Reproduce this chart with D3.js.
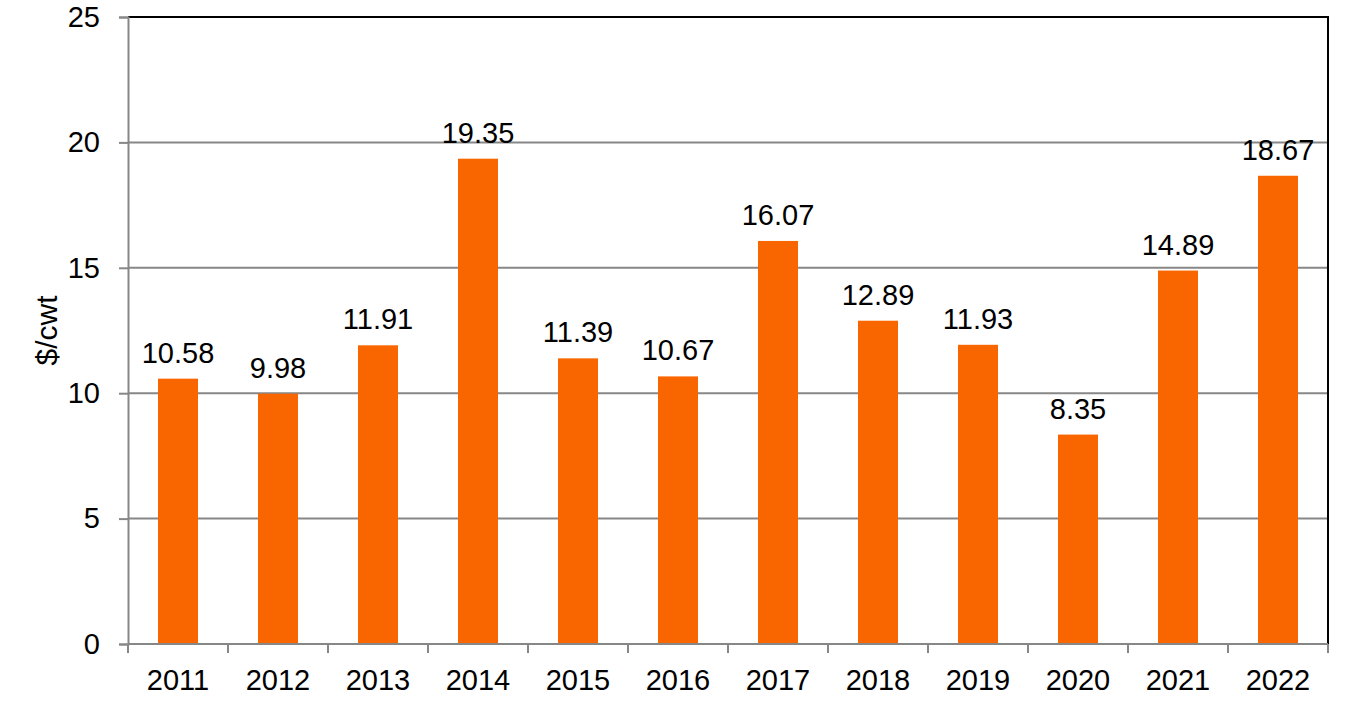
<!DOCTYPE html>
<html>
<head>
<meta charset="utf-8">
<script src="https://cdn.jsdelivr.net/npm/d3@7"></script>
<style>
  body { margin: 0; background: #fff; }
  text { font-family: "Liberation Sans", Arial, sans-serif; fill: #000; }
</style>
</head>
<body>
<div id="chart"></div>
<script>
// Years and prices ($/cwt)
var years = ["2011", "2012", "2013", "2014", "2015", "2016", "2017", "2018", "2019", "2020", "2021", "2022"];
var prices = [10.58, 9.98, 11.91, 19.35, 11.39, 10.67, 16.07, 12.89, 11.93, 8.35, 14.89, 18.67];
var yTicks = [0, 5, 10, 15, 20, 25];

var width = 1349;
var height = 711;
var margin = { top: 17, right: 21, bottom: 67, left: 128 };
var plotW = width - margin.left - margin.right;
var plotH = height - margin.top - margin.bottom;
var fontSize = "29px";

var svg = d3.select("#chart")
  .append("svg")
    .attr("width", width)
    .attr("height", height);

var g = svg.append("g")
  .attr("transform", "translate(" + margin.left + "," + margin.top + ")");

var x = d3.scaleBand()
  .domain(years)
  .range([0, plotW])
  .paddingInner(0.6)
  .paddingOuter(0.3);

var y = d3.scaleLinear()
  .domain([0, 25])
  .range([plotH, 0]);

// gridlines
g.selectAll("line.grid")
  .data(yTicks.slice(1, -1))
  .enter()
  .append("line")
    .attr("class", "grid")
    .attr("x1", 0)
    .attr("x2", plotW)
    .attr("y1", function (d) { return y(d); })
    .attr("y2", function (d) { return y(d); })
    .attr("stroke", "#878787")
    .attr("stroke-width", 2);

// top and right border
g.append("path")
  .attr("d", "M0," + y(25) + "H" + plotW + "V" + plotH)
  .attr("fill", "none")
  .attr("stroke", "#000")
  .attr("stroke-width", 2);

// bars
g.selectAll("rect.bar")
  .data(prices)
  .enter()
  .append("rect")
    .attr("class", "bar")
    .attr("x", function (d, i) { return x(years[i]); })
    .attr("y", function (d) { return y(d); })
    .attr("width", x.bandwidth())
    .attr("height", function (d) { return plotH - y(d); })
    .attr("fill", "#F96600");

// value labels
g.selectAll("text.val")
  .data(prices)
  .enter()
  .append("text")
    .attr("class", "val")
    .attr("x", function (d, i) { return x(years[i]) + x.bandwidth() / 2; })
    .attr("y", function (d) { return y(d) - 16; })
    .attr("text-anchor", "middle")
    .style("font-size", fontSize)
    .text(function (d) { return d.toFixed(2); });

// y axis
var yAxis = d3.axisLeft(y)
  .tickValues(yTicks)
  .tickSize(9)
  .tickPadding(19);

var ya = g.append("g").call(yAxis);
ya.select(".domain").attr("stroke", "#878787").attr("stroke-width", 2);
ya.selectAll(".tick line").attr("stroke", "#878787").attr("stroke-width", 2);
ya.selectAll(".tick text").style("font-size", fontSize).attr("fill", "#000");

// x axis
var xPos = d3.scaleLinear().domain([0, years.length]).range([0, plotW]);
var xa = g.append("g").attr("transform", "translate(0," + plotH + ")");
xa.append("line")
  .attr("x1", 0).attr("x2", plotW)
  .attr("stroke", "#878787").attr("stroke-width", 2);
xa.selectAll("line.tick")
  .data(d3.range(years.length + 1))
  .enter()
  .append("line")
    .attr("class", "tick")
    .attr("x1", function (d) { return xPos(d); })
    .attr("x2", function (d) { return xPos(d); })
    .attr("y1", 0)
    .attr("y2", 9)
    .attr("stroke", "#878787")
    .attr("stroke-width", 2);
xa.selectAll("text")
  .data(years)
  .enter()
  .append("text")
    .attr("x", function (d) { return x(d) + x.bandwidth() / 2; })
    .attr("y", 46)
    .attr("text-anchor", "middle")
    .style("font-size", fontSize)
    .text(function (d) { return d; });

// y axis title
svg.append("text")
  .attr("transform", "translate(57," + (margin.top + plotH / 2) + ") rotate(-90)")
  .attr("text-anchor", "middle")
  .style("font-size", "30px")
  .text("$/cwt");
</script>
</body>
</html>
